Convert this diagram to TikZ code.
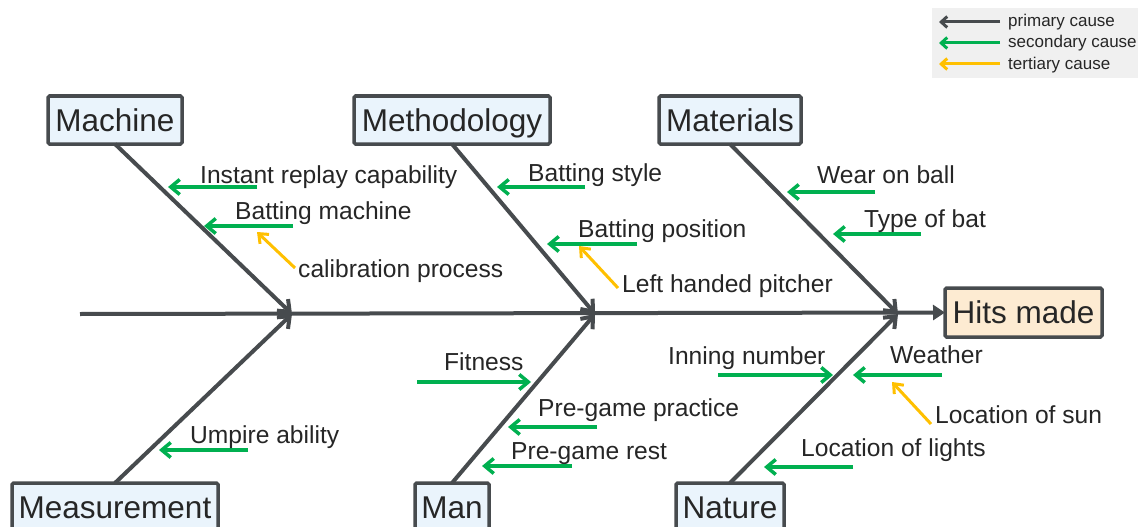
\documentclass[tikz,border=0pt]{standalone}
\usepackage{fontspec}
\setmainfont{Liberation Sans}
\usetikzlibrary{arrows.meta}
\definecolor{prim}{HTML}{474B4E}
\definecolor{sec}{HTML}{00B050}
\definecolor{ter}{HTML}{FFC000}
\definecolor{boxfill}{HTML}{EAF4FC}
\definecolor{effectfill}{HTML}{FDEBD2}
\definecolor{txt}{HTML}{262626}
\definecolor{legfill}{HTML}{F0F0F0}
\begin{document}
\begin{tikzpicture}[x=1pt,y=-1pt,
  catbox/.style={draw=prim, line width=3.5pt, rounded corners=1.5pt, fill=boxfill, minimum height=48pt, inner sep=0pt, outer sep=0pt, font=\fontsize{31.5}{36}\selectfont, text=txt, text height=22.7pt, text depth=0pt},
  lbl/.style={anchor=base west, inner sep=0pt, font=\fontsize{24.6}{28}\selectfont, text=txt},
  leglbl/.style={anchor=base west, inner sep=0pt, font=\fontsize{17}{20}\selectfont, text=txt},
  bone/.style={draw=prim, line width=4pt, -{Straight Barb[length=10pt,width=16pt]}},
  secarrow/.style={draw=sec, line width=3.5pt, -{Straight Barb[length=9pt,width=15pt]}},
  terarrow/.style={draw=ter, line width=3pt, -{Straight Barb[length=8pt,width=13pt]}},
]
\clip (0,0) rectangle (1141,527);
\fill[white] (0,0) rectangle (1141,527);

% legend
\node[fill=legfill, minimum width=206pt, minimum height=70pt, inner sep=0pt] (legend) at (1035,43) {};
\coordinate (lp1) at (1000,22); \coordinate (lp2) at (939,22);
\coordinate (ls1) at (1000,43); \coordinate (ls2) at (939,43);
\coordinate (lt1) at (1000,64); \coordinate (lt2) at (939,64);
\draw[draw=prim, line width=3pt, -{Straight Barb[length=6pt,width=11pt]}] (lp1) -- (lp2);
\draw[draw=sec, line width=3pt, -{Straight Barb[length=6pt,width=11pt]}] (ls1) -- (ls2);
\draw[draw=ter, line width=3pt, -{Straight Barb[length=6pt,width=11pt]}] (lt1) -- (lt2);
\node[leglbl] (lgp) at (1008,27) {primary cause};
\node[leglbl] (lgs) at (1008,48) {secondary cause};
\node[leglbl] (lgt) at (1008,70) {tertiary cause};

% category boxes
\node[catbox, minimum width=134pt] (machine) at (115,120) {Machine};
\node[catbox, minimum width=196pt] (method) at (452,120) {Methodology};
\node[catbox, minimum width=142pt] (materials) at (730,120) {Materials};
\node[catbox, minimum width=206pt] (measure) at (115,507) {Measurement};
\node[catbox, minimum width=74pt] (man) at (452,507) {Man};
\node[catbox, minimum width=108pt] (nature) at (730,507) {Nature};
\node[catbox, fill=effectfill, minimum width=157pt, minimum height=49pt] (hits) at (1023.5,312.5) {Hits made};

% spine and bones
\coordinate (tail) at (80,314);
\coordinate (j1) at (292,314);
\coordinate (j2) at (595,314);
\coordinate (j3) at (898,314);
\draw[draw=prim, line width=4pt, -{Triangle[length=12pt,width=15pt]}] (tail) -- (hits.west);
\draw[bone] (machine.south) -- (j1);
\draw[bone] (method.south) -- (j2);
\draw[bone] (materials.south) -- (j3);
\draw[bone] (measure.north) -- (j1);
\draw[bone] (man.north) -- (j2);
\draw[bone] (nature.north) -- (j3);

% Machine
\coordinate (a1s) at (257,187); \coordinate (a1e) at (168,187);
\coordinate (a2s) at (293,226); \coordinate (a2e) at (204,226);
\coordinate (a3s) at (295,268); \coordinate (a3e) at (257,232);
\draw[secarrow] (a1s) -- (a1e);
\draw[secarrow] (a2s) -- (a2e);
\draw[terarrow] (a3s) -- (a3e);
\node[lbl] (t1) at (200,183) {Instant replay capability};
\node[lbl] (t2) at (235,219) {Batting machine};
\node[lbl] (t3) at (298,277) {calibration process};

% Methodology
\coordinate (b1s) at (585,187); \coordinate (b1e) at (497,187);
\coordinate (b2s) at (637,244); \coordinate (b2e) at (547,244);
\coordinate (b3s) at (618,288); \coordinate (b3e) at (579,246);
\draw[secarrow] (b1s) -- (b1e);
\draw[secarrow] (b2s) -- (b2e);
\draw[terarrow] (b3s) -- (b3e);
\node[lbl] (u1) at (528,181) {Batting style};
\node[lbl] (u2) at (578,237) {Batting position};
\node[lbl] (u3) at (622,292) {Left handed pitcher};

% Materials
\coordinate (c1s) at (875,192); \coordinate (c1e) at (787,192);
\coordinate (c2s) at (921,234); \coordinate (c2e) at (833,234);
\draw[secarrow] (c1s) -- (c1e);
\draw[secarrow] (c2s) -- (c2e);
\node[lbl] (v1) at (817,183) {Wear on ball};
\node[lbl] (v2) at (864,227) {Type of bat};

% Measurement
\coordinate (d1s) at (248,450); \coordinate (d1e) at (159,450);
\draw[secarrow] (d1s) -- (d1e);
\node[lbl] (w1) at (190,443) {Umpire ability};

% Man
\coordinate (e1s) at (417,382); \coordinate (e1e) at (531,382);
\coordinate (e2s) at (597,427); \coordinate (e2e) at (508,427);
\coordinate (e3s) at (572,466); \coordinate (e3e) at (482,466);
\draw[secarrow] (e1s) -- (e1e);
\draw[secarrow] (e2s) -- (e2e);
\draw[secarrow] (e3s) -- (e3e);
\node[lbl] (x1) at (444,370) {Fitness};
\node[lbl] (x2) at (538,416) {Pre-game practice};
\node[lbl] (x3) at (511,459) {Pre-game rest};

% Nature
\coordinate (f1s) at (718,375); \coordinate (f1e) at (833,375);
\coordinate (f2s) at (942,375); \coordinate (f2e) at (853,375);
\coordinate (f3s) at (931,424); \coordinate (f3e) at (892,382);
\coordinate (f4s) at (853,467); \coordinate (f4e) at (764,467);
\draw[secarrow] (f1s) -- (f1e);
\draw[secarrow] (f2s) -- (f2e);
\draw[terarrow] (f3s) -- (f3e);
\draw[secarrow] (f4s) -- (f4e);
\node[lbl] (y1) at (668,364) {Inning number};
\node[lbl] (y2) at (890,363) {Weather};
\node[lbl] (y3) at (935,423) {Location of sun};
\node[lbl] (y4) at (801,456) {Location of lights};
\end{tikzpicture}
\end{document}
